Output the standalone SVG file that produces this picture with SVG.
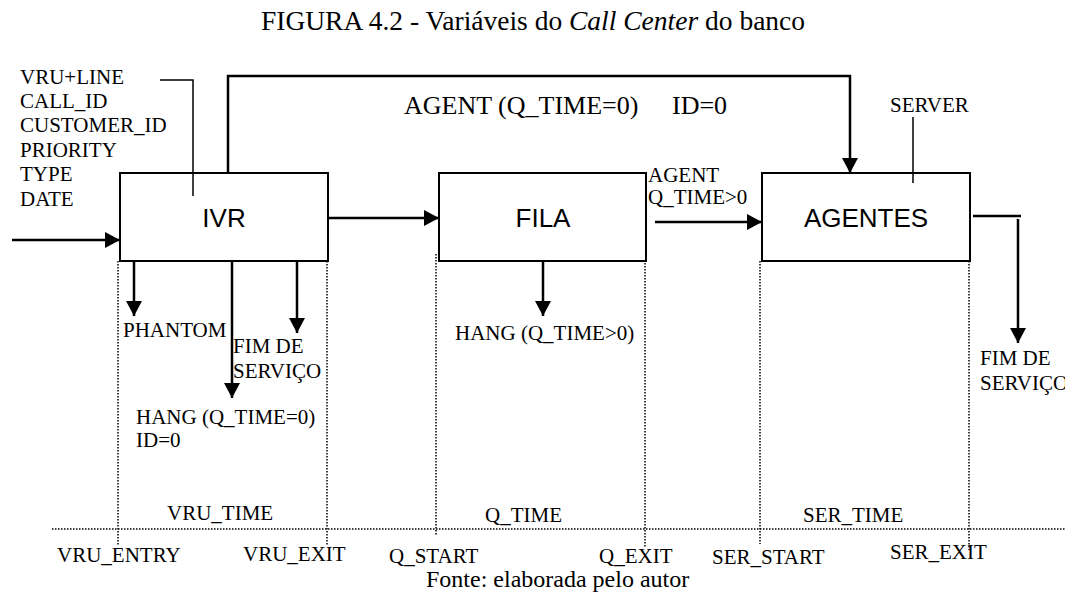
<svg xmlns="http://www.w3.org/2000/svg" width="1065" height="601" viewBox="0 0 1065 601">
  <style>
    .serif { font-family: "Liberation Serif", "Times New Roman", serif; fill: #000; }
    .t21 { font-size: 21px; }
    .t26 { font-size: 26px; }
    .sans { font-family: "Liberation Sans", Arial, sans-serif; font-size: 26px; fill: #000; }
    .box { fill: #fff; stroke: #000; stroke-width: 2; }
    .wire { fill: none; stroke: #000; stroke-width: 2.5; }
    .thin { fill: none; stroke: #000; stroke-width: 1.5; }
    .dots { fill: none; stroke: #000; stroke-width: 1.5; stroke-dasharray: 1.5 1.5; }
  </style>
  <defs>
    <marker id="arrow" markerUnits="userSpaceOnUse" markerWidth="16" markerHeight="16" refX="15" refY="8" orient="auto">
      <path d="M0,0 L15,8 L0,16 Z" fill="#000"/>
    </marker>
  </defs>
  <rect width="1065" height="601" fill="#fff"/>

  <!-- title -->
  <text class="serif" x="533" y="30" font-size="27.5" text-anchor="middle">FIGURA 4.2 - Variáveis do <tspan font-style="italic">Call Center</tspan> do banco</text>

  <!-- time-axis guides -->
  <g id="timeline">
    <line class="dots" x1="52" y1="529" x2="1065" y2="529"/>
    <line class="dots" x1="118" y1="261" x2="118" y2="545"/>
    <line class="dots" x1="327" y1="261" x2="327" y2="545"/>
    <line class="dots" x1="436" y1="254" x2="436" y2="536"/>
    <line class="dots" x1="645" y1="254" x2="645" y2="547"/>
    <line class="dots" x1="760" y1="261" x2="760" y2="544"/>
    <line class="dots" x1="969" y1="261" x2="969" y2="550"/>
    <text class="serif t21" x="167" y="520">VRU_TIME</text>
    <text class="serif t21" x="485" y="522">Q_TIME</text>
    <text class="serif t21" x="803" y="522">SER_TIME</text>
    <text class="serif t21" x="57" y="562">VRU_ENTRY</text>
    <text class="serif t21" x="243" y="561">VRU_EXIT</text>
    <text class="serif t21" x="389" y="563">Q_START</text>
    <text class="serif t21" x="599" y="563">Q_EXIT</text>
    <text class="serif t21" x="712" y="564">SER_START</text>
    <text class="serif t21" x="890" y="559">SER_EXIT</text>
  </g>

  <!-- connectors -->
  <g id="connectors">
    <line class="wire" x1="12" y1="240" x2="120" y2="240" marker-end="url(#arrow)"/>
    <line class="wire" x1="328" y1="218" x2="439" y2="218" marker-end="url(#arrow)"/>
    <line class="wire" x1="655" y1="222" x2="762" y2="222" marker-end="url(#arrow)"/>
    <polyline class="wire" points="228,173 228,76 850,76 850,173" marker-end="url(#arrow)"/>
    <line class="wire" x1="134" y1="261" x2="134" y2="316" marker-end="url(#arrow)"/>
    <line class="wire" x1="232" y1="261" x2="232" y2="398" marker-end="url(#arrow)"/>
    <line class="wire" x1="297" y1="261" x2="297" y2="333" marker-end="url(#arrow)"/>
    <line class="wire" x1="543" y1="261" x2="543" y2="316" marker-end="url(#arrow)"/>
    <line class="wire" x1="973" y1="216" x2="1021" y2="216"/>
    <line class="wire" x1="1018" y1="219" x2="1018" y2="343" marker-end="url(#arrow)"/>
    <polyline class="thin" points="160,80 193,80 193,196"/>
    <line class="thin" x1="913" y1="117" x2="913" y2="183"/>
  </g>

  <!-- call attributes -->
  <g id="attributes">
    <text class="serif t21" x="20" y="84">VRU+LINE</text>
    <text class="serif t21" x="20" y="108">CALL_ID</text>
    <text class="serif t21" x="20" y="132">CUSTOMER_ID</text>
    <text class="serif t21" x="20" y="157">PRIORITY</text>
    <text class="serif t21" x="20" y="181">TYPE</text>
    <text class="serif t21" x="20" y="206">DATE</text>
  </g>

  <g id="ivr">
    <rect class="box" x="120" y="173" width="208" height="88"/>
    <polyline class="thin" points="193,173 193,196"/>
    <text class="sans" x="224" y="227" text-anchor="middle">IVR</text>
  </g>

  <g id="fila">
    <rect class="box" x="439" y="173" width="207" height="88"/>
    <text class="sans" x="543" y="227" text-anchor="middle">FILA</text>
  </g>

  <g id="agentes">
    <rect class="box" x="762" y="173" width="208" height="88"/>
    <line class="thin" x1="913" y1="173" x2="913" y2="183"/>
    <text class="sans" x="866" y="227" text-anchor="middle">AGENTES</text>
  </g>

  <!-- connector labels -->
  <g id="labels">
    <text class="serif t26" x="404" y="114">AGENT (Q_TIME=0)</text>
    <text class="serif t26" x="672" y="114">ID=0</text>
    <text class="serif t21" x="890" y="112">SERVER</text>
    <text class="serif t21" x="648" y="182">AGENT</text>
    <text class="serif t21" x="648" y="204">Q_TIME&gt;0</text>
    <text class="serif t21" x="123" y="337">PHANTOM</text>
    <text class="serif t21" x="233" y="353">FIM DE</text>
    <text class="serif t21" x="233" y="378">SERVIÇO</text>
    <text class="serif t21" x="136" y="424">HANG (Q_TIME=0)</text>
    <text class="serif t21" x="136" y="447">ID=0</text>
    <text class="serif t21" x="455" y="340">HANG (Q_TIME&gt;0)</text>
    <text class="serif t21" x="980" y="365">FIM DE</text>
    <text class="serif t21" x="980" y="390">SERVIÇO</text>
  </g>

  <text class="serif" x="426" y="587" font-size="24">Fonte: elaborada pelo autor</text>
</svg>
